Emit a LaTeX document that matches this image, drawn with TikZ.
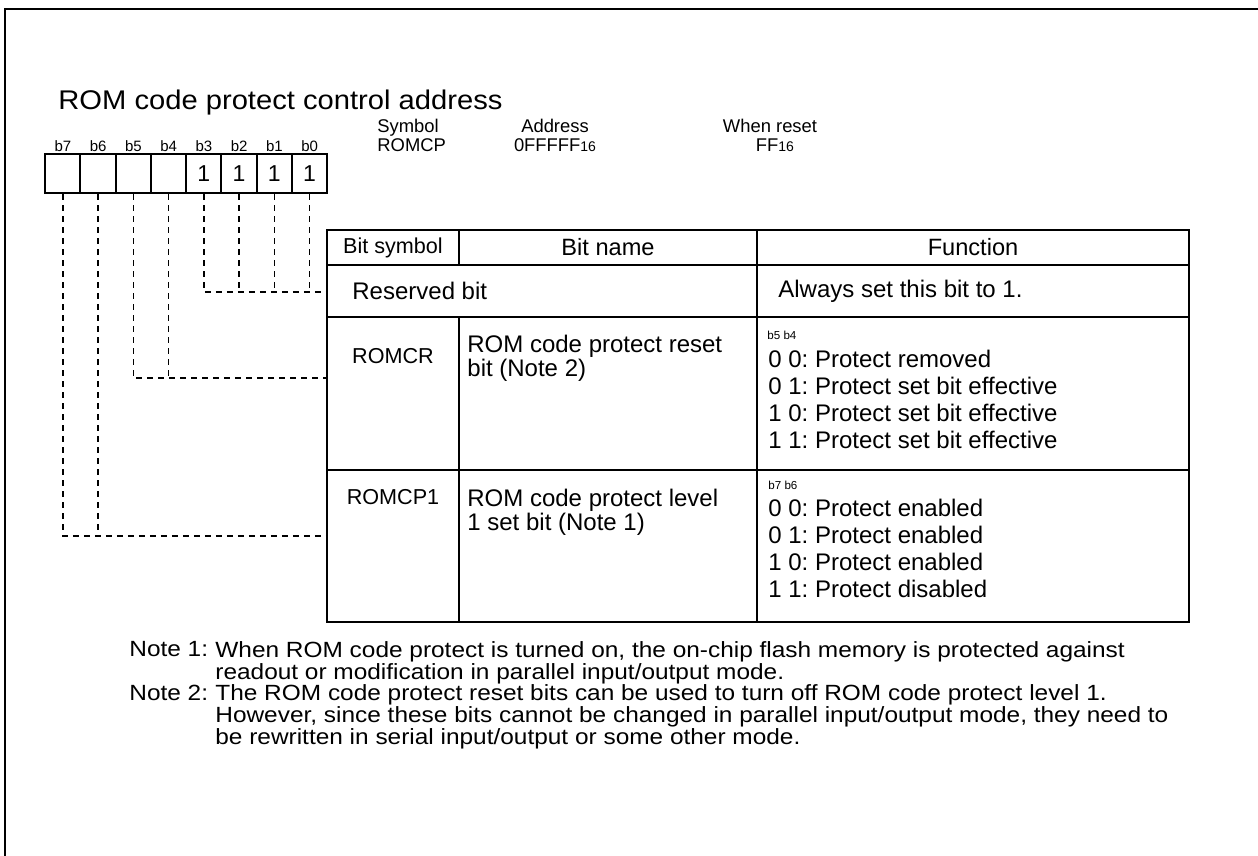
\documentclass[tikz,border=0pt]{standalone}
\usepackage{fontspec}
\setmainfont{Liberation Sans}
\newfontfamily\widefont[FakeStretch=1.08]{Liberation Sans}
\newfontfamily\notefont[FakeStretch=1.11]{Liberation Sans}
\usepackage{tikz}
\tikzset{
  bitbox/.style={draw, line width=1pt, minimum width=17.625pt, minimum height=19.5pt,
    inner sep=0pt, font=\fontsize{11.5}{12}\selectfont},
  bitlabel/.style={inner sep=0pt, font=\fontsize{7.5}{8}\selectfont},
  bitlink/.style={line width=0.7pt, dash pattern=on 3pt off 2.5pt},
  tbl/.style={line width=1pt},
  hdr/.style={inner sep=0pt, font=\fontsize{9.2}{11}\selectfont},
  hd/.style={inner sep=0pt, font=\fontsize{10.8}{12}\selectfont},
  hdbig/.style={inner sep=0pt, font=\fontsize{11.8}{12}\selectfont},
  cell/.style={inner sep=0pt, font=\fontsize{12}{11.8}\selectfont},
  fun/.style={inner sep=0pt, align=left, font=\fontsize{12}{13.4}\selectfont},
  tinylbl/.style={inner sep=0pt, font=\fontsize{5.8}{6}\selectfont},
  note/.style={inner sep=0pt, align=left, font=\notefont\fontsize{11}{10.85}\selectfont}
}
\newcommand{\sixteen}{{\fontsize{7}{8}\selectfont 16}}
\frenchspacing

\begin{document}
\begin{tikzpicture}[x=0.5pt,y=-0.5pt]
  \useasboundingbox (0,0) rectangle (1258,856);
  \draw[line width=1.2pt] (1258,9) -- (5,9) -- (5,856);   % frame

  \node[anchor=base west, inner sep=0pt, font=\widefont\fontsize{13.5}{14}\selectfont] (title) at (58,110)
    {ROM code protect control address};

  % register bits
  \foreach \i in {0,...,7}{
    \node[bitbox] (bx\i) at ({309.6-35.25*\i},173.5) {\ifnum\i<4 1\fi};
    \node[bitlabel] (bl\i) at ({309.6-35.25*\i},146) {b\i};
  }

  \node[hdr, anchor=base west] (symh) at (377,133) {Symbol};
  \node[hdr, anchor=base west] (symv) at (377,152) {ROMCP};
  \node[hdr, anchor=base] (adrh) at (555,133) {Address};
  \node[hdr, anchor=base] (adrv) at (555,152) {0FFFFF\sixteen};
  \node[hdr, anchor=base] (rsth) at (770,133) {When reset};
  \node[hdr, anchor=base] (rstv) at (775,152) {FF\sixteen};

  % table
  \draw[tbl] (327,230) rectangle (1189,622);
  \draw[tbl] (327,265) -- (1189,265);
  \draw[tbl] (327,317) -- (1189,317);
  \draw[tbl] (327,470) -- (1189,470);
  \draw[tbl] (459,230) -- (459,265);
  \draw[tbl] (459,317) -- (459,622);
  \draw[tbl] (757,230) -- (757,622);

  \node[hd] (hsym) at (393,247.5) {Bit symbol};
  \node[hdbig] (hname) at (608,247.5) {Bit name};
  \node[hdbig] (hfun) at (973,247.5) {Function};

  \node[cell, anchor=west] (rsvname) at (352,291) {Reserved bit};
  \node[cell, anchor=west] (rsvfun) at (778,291) {Always set this bit to 1.};

  \node[hd] (crsym) at (393,356) {ROMCR};
  \node[cell, anchor=north west, align=left] (crname) at (467,335)
    {ROM code protect reset\\bit (Note 2)};
  \node[tinylbl, anchor=west] (crbits) at (767,335) {b5 b4};
  \node[fun, anchor=north west] (crfun) at (768,350) {0 0: Protect removed\\
    0 1: Protect set bit effective\\1 0: Protect set bit effective\\
    1 1: Protect set bit effective};

  \node[hd] (cpsym) at (393,497) {ROMCP1};
  \node[cell, anchor=north west, align=left] (cpname) at (467,489)
    {ROM code protect level\\1 set bit (Note 1)};
  \node[tinylbl, anchor=west] (cpbits) at (768,485) {b7 b6};
  \node[fun, anchor=north west] (cpfun) at (768,499) {0 0: Protect enabled\\
    0 1: Protect enabled\\1 0: Protect enabled\\1 1: Protect disabled};

  % bits to rows
  \coordinate (rsv) at (327,292);
  \coordinate (rcr) at (327,378);
  \coordinate (rcp) at (327,536);
  \draw[bitlink] (bx3.south) |- (rsv);
  \foreach \i in {0,1,2} \draw[bitlink] (bx\i.south) -- (bx\i.south |- rsv);
  \draw[bitlink] (bx5.south) |- (rcr);
  \draw[bitlink] (bx4.south) -- (bx4.south |- rcr);
  \draw[bitlink] (bx7.south) |- (rcp);
  \draw[bitlink] (bx6.south) -- (bx6.south |- rcp);

  % notes
  \node[note, anchor=north west] (n1) at (129,641) {Note 1:};
  \node[note, anchor=north west] (n1txt) at (215,641)
    {When ROM code protect is turned on, the on-chip flash memory is protected against\\
     readout or modification in parallel input/output mode.};
  \node[note, anchor=north west] (n2) at (129,684.5) {Note 2:};
  \node[note, anchor=north west] (n2txt) at (215,684.5)
    {The ROM code protect reset bits can be used to turn off ROM code protect level 1.\\
     However, since these bits cannot be changed in parallel input/output mode, they need to\\
     be rewritten in serial input/output or some other mode.};
\end{tikzpicture}
\end{document}
